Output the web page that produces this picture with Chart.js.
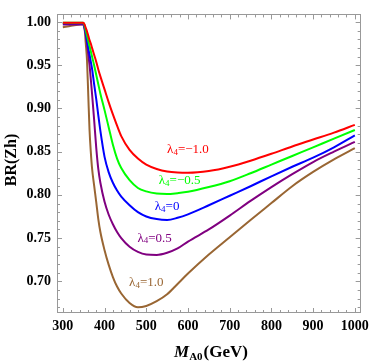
<!DOCTYPE html>
<html lang="en">
<head>
    <meta charset="UTF-8">
    <title>BR(Zh) vs M_A0</title>
    <script src="https://cdn.jsdelivr.net/npm/chart.js"></script>
    <style>
        html, body { margin: 0; padding: 0; background: #fff; }
        #wrap { width: 374px; height: 363px; position: relative; }
    </style>
</head>
<body>
    <div id="wrap"><canvas id="myChart"></canvas></div>

    <script>
        // masses (GeV) shared by all curves
        const massGeV = [300, 320, 340, 349, 352, 355, 358, 361, 364, 367, 370, 375, 380, 385, 390,
                         400, 410, 420, 430, 440, 460, 480, 500, 525, 550, 575, 600, 650, 700, 750,
                         800, 850, 900, 950, 1000];

        // BR(Zh) for each lambda_4
        const brLamM10 = [0.999, 0.999, 0.999, 0.999, 0.997, 0.993, 0.989, 0.984, 0.979, 0.975, 0.970, 0.962, 0.954, 0.945, 0.937,
                          0.922, 0.907, 0.893, 0.880, 0.868, 0.852, 0.842, 0.835, 0.830, 0.827, 0.8258, 0.8255, 0.8275, 0.8325, 0.8395,
                          0.8475, 0.856, 0.864, 0.872, 0.881];
        const brLamM05 = [0.999, 0.999, 0.999, 0.999, 0.996, 0.990, 0.984, 0.978, 0.972, 0.966, 0.960, 0.950, 0.939, 0.928, 0.917,
                          0.898, 0.878, 0.858, 0.842, 0.831, 0.817, 0.808, 0.804, 0.8015, 0.801, 0.802, 0.8035, 0.809, 0.8158, 0.825,
                          0.835, 0.845, 0.855, 0.865, 0.875];
        const brLam00  = [0.9985, 0.9985, 0.9985, 0.9985, 0.994, 0.987, 0.978, 0.970, 0.962, 0.954, 0.946, 0.928, 0.911, 0.892, 0.874,
                          0.844, 0.826, 0.814, 0.805, 0.798, 0.788, 0.780, 0.775, 0.772, 0.771, 0.7735, 0.7775, 0.788, 0.799, 0.810,
                          0.8215, 0.8325, 0.843, 0.855, 0.8688];
        const brLamP05 = [0.997, 0.997, 0.997, 0.997, 0.992, 0.985, 0.975, 0.962, 0.950, 0.934, 0.917, 0.887, 0.855, 0.830, 0.814,
                          0.792, 0.777, 0.766, 0.757, 0.750, 0.740, 0.734, 0.731, 0.7305, 0.733, 0.738, 0.746, 0.760, 0.776, 0.793,
                          0.809, 0.824, 0.838, 0.850, 0.8613];
        const brLamP10 = [0.9938, 0.9955, 0.997, 0.9975, 0.993, 0.975, 0.955, 0.915, 0.875, 0.850, 0.831, 0.811, 0.792, 0.772, 0.757,
                          0.736, 0.719, 0.705, 0.694, 0.686, 0.675, 0.670, 0.6715, 0.677, 0.685, 0.697, 0.709, 0.731, 0.751, 0.771,
                          0.7905, 0.810, 0.8265, 0.841, 0.854];

        const curveNames  = ['\u22121.0', '\u22120.5', '0', '0.5', '1.0'];
        const curveColors = ['#ff0000', '#00ff00', '#0000ff', '#800080', '#996633'];
        const curveValues = [brLamM10, brLamM05, brLam00, brLamP05, brLamP10];
        // where each lambda label sits, in data units
        const labelMass = [600, 580, 550, 520, 500];
        const labelBR   = [0.852, 0.8165, 0.786, 0.750, 0.699];

        const xTicks = [300, 400, 500, 600, 700, 800, 900, 1000];
        const yTicks = [0.70, 0.75, 0.80, 0.85, 0.90, 0.95, 1.00];

        const serif = "'Liberation Serif', 'DejaVu Serif', serif";
        const frameColor = '#999999';

        // frame + inward ticks on all four sides, like Mathematica
        const frameTicks = {
            id: 'frameTicks',
            afterDatasetsDraw(chart) {
                const { ctx, chartArea: a, scales: { x, y } } = chart;
                ctx.save();
                ctx.strokeStyle = frameColor;
                ctx.lineWidth = 1;
                ctx.strokeRect(Math.round(a.left) + 0.5, Math.round(a.top) + 0.5,
                               Math.round(a.right - a.left) - 1, Math.round(a.bottom - a.top) - 1);
                ctx.beginPath();
                for (let v = 280; v <= 1020; v += 20) {
                    if (v < x.min || v > x.max) continue;
                    const px = Math.round(x.getPixelForValue(v)) + 0.5;
                    const len = v % 100 === 0 ? 5 : 3;
                    ctx.moveTo(px, a.bottom); ctx.lineTo(px, a.bottom - len);
                    ctx.moveTo(px, a.top); ctx.lineTo(px, a.top + len);
                }
                for (let i = 66; i <= 101; i++) {
                    const v = i / 100;
                    if (v < y.min || v > y.max) continue;
                    const py = Math.round(y.getPixelForValue(v)) + 0.5;
                    const len = i % 5 === 0 ? 5 : 3;
                    ctx.moveTo(a.left, py); ctx.lineTo(a.left + len, py);
                    ctx.moveTo(a.right, py); ctx.lineTo(a.right - len, py);
                }
                ctx.stroke();
                ctx.restore();
            },
            afterDraw(chart) {
                const { ctx, scales: { x, y } } = chart;
                ctx.save();
                ctx.textBaseline = 'middle';
                // lambda labels
                curveNames.forEach((name, i) => {
                    const big = '13px ' + serif, small = '9px ' + serif;
                    ctx.font = big; const wL = ctx.measureText('\u03bb').width;
                    const wR = ctx.measureText('=' + name).width;
                    ctx.font = small; const w4 = ctx.measureText('4').width;
                    let px = x.getPixelForValue(labelMass[i]) - (wL + w4 + wR) / 2;
                    const py = y.getPixelForValue(labelBR[i]);
                    ctx.fillStyle = curveColors[i];
                    ctx.textAlign = 'left';
                    ctx.font = big; ctx.fillText('\u03bb', px, py); px += wL;
                    ctx.font = small; ctx.fillText('4', px, py + 3); px += w4;
                    ctx.font = big; ctx.fillText('=' + name, px, py);
                });
                // x title: M_A0(GeV)
                ctx.fillStyle = '#000';
                ctx.textBaseline = 'alphabetic';
                const fM = 'italic bold 17px ' + serif, fS = 'bold 11px ' + serif, fG = 'bold 17px ' + serif;
                ctx.font = fM; const wM = ctx.measureText('M').width;
                ctx.font = fS; const wS = ctx.measureText('A0').width;
                ctx.font = fG; const wG = ctx.measureText('(GeV)').width;
                let tx = 211 - (wM + wS + 1 + wG) / 2;
                const base = 357;
                ctx.font = fM; ctx.fillText('M', tx, base); tx += wM;
                ctx.font = fS; ctx.fillText('A0', tx, base + 3); tx += wS + 1;
                ctx.font = fG; ctx.fillText('(GeV)', tx, base);
                // y title
                ctx.translate(12, 160);
                ctx.rotate(-Math.PI / 2);
                ctx.textAlign = 'center';
                ctx.textBaseline = 'middle';
                ctx.font = 'bold 16px ' + serif;
                ctx.fillText('BR(Zh)', 0, 0);
                ctx.restore();
            }
        };

        const ctx = document.getElementById('myChart').getContext('2d');
        const chart = new Chart(ctx, {
            type: 'line',
            data: {
                datasets: curveValues.map((vals, i) => ({
                    label: '\u03bb4=' + curveNames[i],
                    data: massGeV.map((m, j) => ({ x: m, y: vals[j] })),
                    borderColor: curveColors[i],
                    borderWidth: 2,
                    pointRadius: 0,
                    fill: false,
                    cubicInterpolationMode: 'monotone'
                }))
            },
            options: {
                responsive: true,
                maintainAspectRatio: false,
                animation: false,
                layout: { padding: { top: 4, right: 9, left: 0, bottom: 0 } },
                plugins: { legend: { display: false }, tooltip: { enabled: false } },
                scales: {
                    x: {
                        type: 'linear',
                        min: 286,
                        max: 1014,
                        afterBuildTicks: s => { s.ticks = xTicks.map(v => ({ value: v })); },
                        afterFit: s => { s.height = 50; },
                        grid: { display: false, drawTicks: false },
                        border: { display: false },
                        ticks: {
                            padding: 5,
                            maxRotation: 0,
                            color: '#000',
                            font: { family: serif, size: 14, weight: 'bold' },
                            callback: v => String(v)
                        }
                    },
                    y: {
                        type: 'linear',
                        min: 0.6634,
                        max: 1.0087,
                        afterBuildTicks: s => { s.ticks = yTicks.map(v => ({ value: v })); },
                        afterFit: s => { s.width = 57; },
                        grid: { display: false, drawTicks: false },
                        border: { display: false },
                        ticks: {
                            padding: 6,
                            color: '#000',
                            font: { family: serif, size: 14, weight: 'bold' },
                            callback: v => v.toFixed(2)
                        }
                    }
                }
            },
            plugins: [frameTicks]
        });
    </script>
</body>
</html>
